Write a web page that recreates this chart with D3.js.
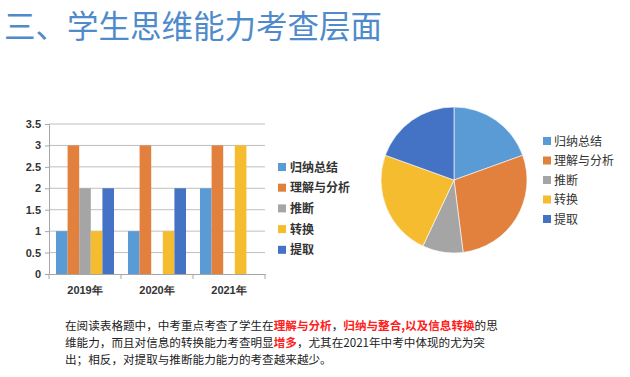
<!DOCTYPE html>
<html>
<head>
<meta charset="utf-8">
<script src="https://cdn.jsdelivr.net/npm/d3@7"></script>
<style>
  body { margin: 0; background: #fff; }
  svg { display: block; font-family: "Noto Sans CJK SC", "Liberation Sans", sans-serif; }
</style>
</head>
<body>
<svg id="chart" width="630" height="377"></svg>
<script>
const years = ["2019年", "2020年", "2021年"];
const skills = ["归纳总结", "理解与分析", "推断", "转换", "提取"];
const colors = ["#5B9BD5", "#E2803E", "#A5A5A5", "#F6BC30", "#4472C4"];
const guina = [1, 1, 2];
const lijie = [3, 3, 3];
const tuiduan = [2, 0, 0];
const zhuanhuan = [1, 1, 3];
const tiqu = [2, 2, 0];
const yTicks = [0, 0.5, 1, 1.5, 2, 2.5, 3, 3.5];
// pie shares
const pieShares = [19.5, 28.5, 9, 23.5, 19.5];

const series = [guina, lijie, tuiduan, zhuanhuan, tiqu];
const svg = d3.select("#chart");

// title
svg.append("text")
  .attr("x", 4).attr("y", 38)
  .attr("font-size", 31.5)
  .attr("fill", "#4F8BCB")
  .text("三、学生思维能力考查层面");

// bar chart
const bx0 = 49, bx1 = 265, by0 = 274, by1 = 124;
const x = d3.scaleBand().domain(years).range([bx0, bx1]);
const xs = d3.scaleBand().domain(skills).range([0, x.bandwidth()]).paddingOuter(0.6).paddingInner(0);
const y = d3.scaleLinear().domain([0, 3.5]).range([by0, by1]);

const gb = svg.append("g");
gb.selectAll(".grid").data(yTicks.filter(d => d > 0)).enter().append("line")
  .attr("x1", bx0).attr("x2", bx1)
  .attr("y1", d => y(d)).attr("y2", d => y(d))
  .attr("stroke", "#BFBFBF").attr("stroke-width", 1);

years.forEach((yr, i) => {
  gb.selectAll(null).data(skills).enter().append("rect")
    .attr("x", (s) => x(yr) + xs(s))
    .attr("width", xs.bandwidth())
    .attr("y", (s, j) => y(series[j][i]))
    .attr("height", (s, j) => by0 - y(series[j][i]))
    .attr("fill", (s, j) => colors[j]);
});

const yAxis = gb.append("g").attr("transform", `translate(${bx0},0)`)
  .call(d3.axisLeft(y).tickValues(yTicks).tickSize(4).tickFormat(d3.format("")));
yAxis.select(".domain").attr("stroke", "#A6A6A6");
yAxis.selectAll(".tick line").attr("stroke", "#A6A6A6");
yAxis.selectAll("text").attr("font-size", 11).attr("font-weight", "bold")
  .attr("fill", "#333").attr("font-family", "Liberation Sans, sans-serif").attr("dx", -1);

const xAxis = gb.append("g").attr("transform", `translate(0,${by0})`)
  .call(d3.axisBottom(x).tickSize(0));
xAxis.select(".domain").attr("stroke", "#A6A6A6");
xAxis.selectAll("text").attr("font-size", 11).attr("font-weight", "bold")
  .attr("fill", "#333").attr("dy", "1.5em");
// boundary ticks between categories
gb.selectAll(".xb").data(d3.range(years.length + 1)).enter().append("line")
  .attr("x1", i => bx0 + i * x.step()).attr("x2", i => bx0 + i * x.step())
  .attr("y1", by0).attr("y2", by0 + 5)
  .attr("stroke", "#A6A6A6");

// bar legend
const lg1 = svg.append("g").attr("transform", "translate(278,167)");
skills.forEach((s, i) => {
  const r = lg1.append("g").attr("transform", `translate(0,${i * 20.7})`);
  r.append("rect").attr("x", 0).attr("y", -4).attr("width", 8).attr("height", 8).attr("fill", colors[i]);
  r.append("text").attr("x", 12).attr("y", 4.5).attr("font-size", 12).attr("font-weight", "bold")
    .attr("fill", "#333").text(s);
});

// pie chart
const pie = d3.pie().sort(null)(pieShares);
const arc = d3.arc().innerRadius(0).outerRadius(73);
const gp = svg.append("g").attr("transform", "translate(454,180)");
gp.selectAll("path").data(pie).enter().append("path")
  .attr("d", arc).attr("fill", (d, i) => colors[i]).attr("stroke", "#fff").attr("stroke-width", 0.6);

const lg2 = svg.append("g").attr("transform", "translate(543,141)");
skills.forEach((s, i) => {
  const r = lg2.append("g").attr("transform", `translate(0,${i * 19.5})`);
  r.append("rect").attr("x", 0).attr("y", -4).attr("width", 8).attr("height", 8).attr("fill", colors[i]);
  r.append("text").attr("x", 11).attr("y", 4.5).attr("font-size", 12)
    .attr("fill", "#333").text(s);
});

// note
const lines = [
  [["在阅读表格题中，中考重点考查了学生在", 0], ["理解与分析", 1], ["，", 0], ["归纳与整合,以及信息转换", 1], ["的思", 0]],
  [["维能力，而且对信息的转换能力考查明显", 0], ["增多", 1], ["，尤其在2021年中考中体现的尤为突", 0]],
  [["出；相反，对提取与推断能力能力的考查越来越少。", 0]]
];
lines.forEach((ln, i) => {
  const t = svg.append("text").attr("x", 65).attr("y", 330 + i * 17).attr("font-size", 11.6);
  ln.forEach(([s, red]) => {
    t.append("tspan").attr("fill", red ? "#FF2020" : "#222").attr("font-weight", red ? "bold" : "normal").text(s);
  });
});
</script>
</body>
</html>
